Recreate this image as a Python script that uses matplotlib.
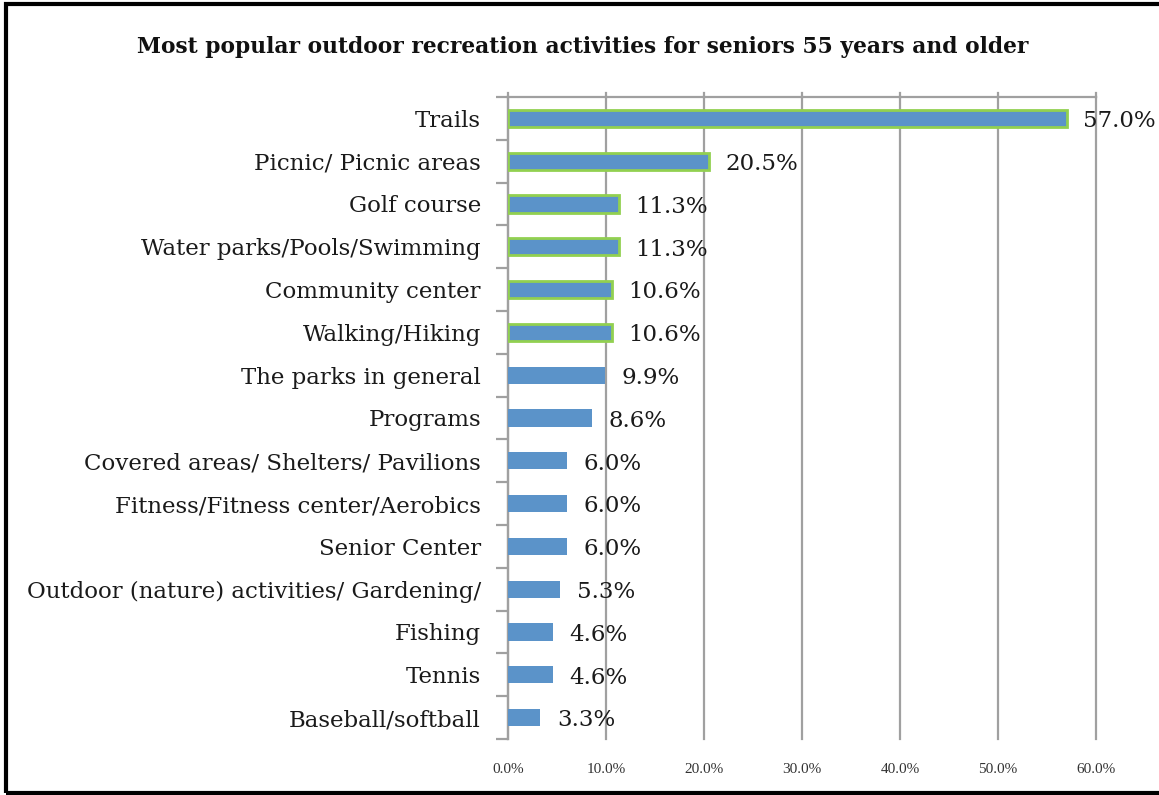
import matplotlib
matplotlib.use("Agg")
import matplotlib.pyplot as plt
from matplotlib.patches import Rectangle
from matplotlib.ticker import FixedLocator
import numpy as np

categories = [
    "Trails",
    "Picnic/ Picnic areas",
    "Golf course",
    "Water parks/Pools/Swimming",
    "Community center",
    "Walking/Hiking",
    "The parks in general",
    "Programs",
    "Covered areas/ Shelters/ Pavilions",
    "Fitness/Fitness center/Aerobics",
    "Senior Center",
    "Outdoor (nature) activities/ Gardening/",
    "Fishing",
    "Tennis",
    "Baseball/softball",
]
values = [57.0, 20.5, 11.3, 11.3, 10.6, 10.6, 9.9, 8.6, 6.0, 6.0, 6.0, 5.3, 4.6, 4.6, 3.3]
highlighted = [True] * 6 + [False] * 9
x_ticks = [0, 10, 20, 30, 40, 50, 60]
x_tick_labels = ["0.0%", "10.0%", "20.0%", "30.0%", "40.0%", "50.0%", "60.0%"]
title = "Most popular outdoor recreation activities for seniors 55 years and older"

bar_color = "#5B93C9"
edge_green = "#92D050"
grid_grey = "#A0A0A0"
serif = "DejaVu Serif"

fig = plt.figure(figsize=(11.59, 7.95), dpi=100)
ax = fig.add_axes([508 / 1159, 1 - 739 / 795, (1096 - 508) / 1159, (739 - 97) / 795])

y = np.arange(len(categories))
for i, (v, hl) in enumerate(zip(values, highlighted)):
    ax.barh(y[i], v, height=0.40, color=bar_color,
            edgecolor=edge_green if hl else "none",
            linewidth=2.0 if hl else 0, zorder=3)
    ax.annotate(f"{v:.1f}%", xy=(v, y[i]), xytext=(12, -2),
                textcoords="offset points", va="center", ha="left",
                fontsize=16.5, family=serif, color="#1a1a1a",
                zorder=4)

ax.set_ylim(len(categories) - 0.5, -0.5)
ax.set_xlim(0, 60)

ax.set_yticks(y)
ax.set_yticklabels(categories, fontsize=16.5, family=serif, color="#1a1a1a")
ax.yaxis.set_minor_locator(FixedLocator(np.arange(-0.5, len(categories), 1.0)))
ax.tick_params(axis="y", which="major", length=0, pad=19.5)
ax.tick_params(axis="y", which="minor", length=9, width=1.6, color=grid_grey, direction="out")

ax.set_xticks(x_ticks)
ax.set_xticklabels(x_tick_labels, fontsize=11, family="Liberation Serif", color="#333333")
ax.tick_params(axis="x", which="major", length=0, pad=17)
ax.xaxis.grid(True, color=grid_grey, linewidth=1.6, zorder=0)
for gl in ax.get_xgridlines():
    gl.set_clip_on(False)

# short marks above the top axis line
for xv in x_ticks:
    ax.plot([xv, xv], [-0.5, -0.6], color=grid_grey, linewidth=1.6,
            clip_on=False, zorder=1)

for side in ["right", "bottom"]:
    ax.spines[side].set_visible(False)
ax.spines["top"].set_color(grid_grey)
ax.spines["top"].set_linewidth(1.6)
ax.spines["left"].set_color(grid_grey)
ax.spines["left"].set_linewidth(1.6)

fig.text(583 / 1159, 1 - 47 / 795, title, ha="center", va="center",
         fontsize=15.7, fontweight="bold", family=serif, color="#111111")

# outer frame
fig.patches.append(Rectangle((6 / 1159, 2 / 795), 1.05, 1 - 6 / 795,
                             transform=fig.transFigure, fill=False,
                             edgecolor="black", linewidth=3.0))

fig.savefig("out.png", dpi=100)
